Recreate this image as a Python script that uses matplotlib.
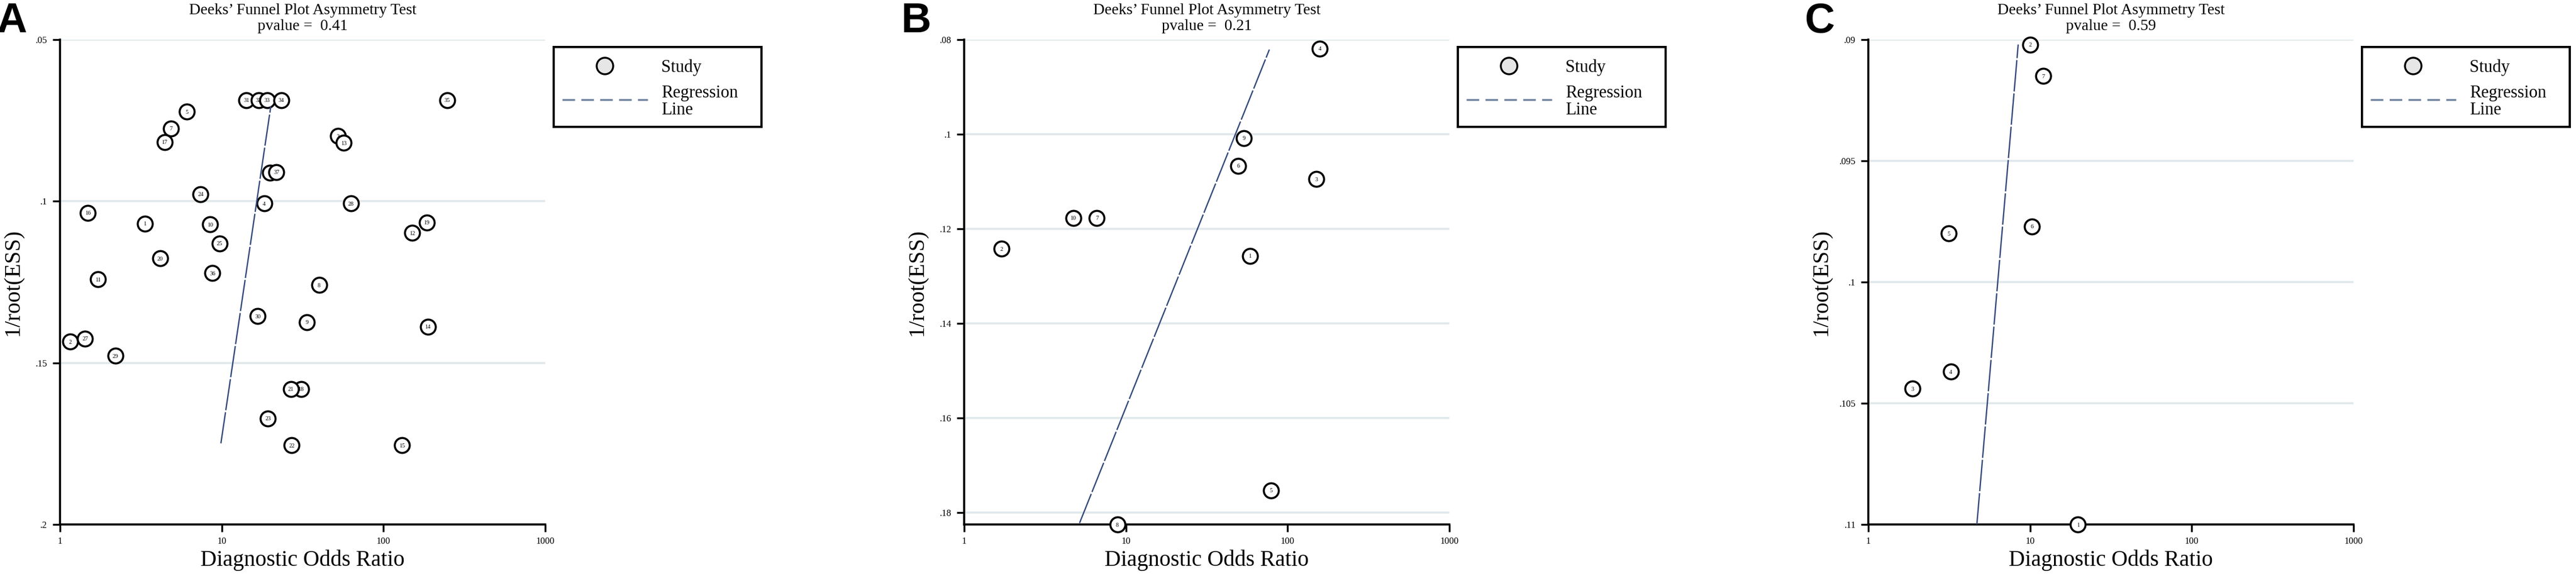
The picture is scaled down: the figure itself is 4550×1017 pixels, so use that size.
import matplotlib
matplotlib.use("Agg")
import matplotlib.pyplot as plt
from matplotlib.ticker import FixedLocator, FixedFormatter, NullLocator

plt.rcParams['font.family'] = ['Liberation Serif', 'DejaVu Serif']
plt.rcParams['lines.scale_dashes'] = False

# ---- data ----
x_ticks = [1, 10, 100, 1000]
x_tick_labels = ['1', '10', '100', '1000']

# Panel A
a_study = [1, 2, 3, 4, 5, 6, 7, 8, 9, 10, 11, 12, 13, 14, 15, 16, 17, 18, 19,
           20, 21, 22, 23, 24, 25, 27, 28, 29, 30, 31, 32, 33, 34, 35, 36, 37]
a_dor = [3.35, 1.16, 52.5, 18.3, 6.06, 19.9, 4.87, 40.0, 33.6, 8.48, 1.72, 151,
         56.9, 188, 130, 1.49, 4.43, 30.9, 185, 4.17, 26.7, 27.1, 19.3, 7.41,
         9.68, 1.43, 62.9, 2.20, 16.7, 14.2, 16.9, 19.1, 23.4, 248, 8.77, 21.8]
a_ess = [0.1069, 0.1434, 0.0798, 0.1007, 0.0723, 0.0912, 0.0775, 0.1259, 0.1374,
         0.1072, 0.1242, 0.1098, 0.0819, 0.1388, 0.1755, 0.1036, 0.0817, 0.1581,
         0.1066, 0.1177, 0.1581, 0.1755, 0.1672, 0.0978, 0.1130, 0.1425, 0.1007,
         0.1478, 0.1356, 0.0687, 0.0687, 0.0687, 0.0687, 0.0687, 0.1222, 0.0910]
a_line_dor = [9.88, 20.1]
a_line_ess = [0.1749, 0.0707]
a_yticks = [0.05, 0.1, 0.15, 0.2]
a_ytick_labels = ['.05', '.1', '.15', '.2']
a_ylim = (0.2, 0.05)
a_pvalue = '0.41'

# Panel B
b_study = [1, 2, 3, 4, 5, 6, 7, 8, 9, 10]
b_dor = [58.5, 1.70, 151, 158, 79.0, 49.4, 6.62, 8.86, 53.6, 4.72]
b_ess = [0.1257, 0.1242, 0.1095, 0.0819, 0.1753, 0.1067, 0.1177, 0.1825, 0.1008, 0.1177]
b_line_dor = [5.17, 77.1]
b_line_ess = [0.1822, 0.0821]
b_yticks = [0.08, 0.1, 0.12, 0.14, 0.16, 0.18]
b_ytick_labels = ['.08', '.1', '.12', '.14', '.16', '.18']
b_ylim = (0.1825, 0.08)
b_pvalue = '0.21'

# Panel C
c_study = [1, 2, 3, 4, 5, 6, 7]
c_dor = [19.8, 10.0, 1.87, 3.24, 3.14, 10.3, 12.1]
c_ess = [0.11, 0.0902, 0.1044, 0.1037, 0.0980, 0.0977, 0.0915]
c_line_dor = [4.69, 8.45]
c_line_ess = [0.11, 0.0902]
c_yticks = [0.09, 0.095, 0.1, 0.105, 0.11]
c_ytick_labels = ['.09', '.095', '.1', '.105', '.11']
c_ylim = (0.11, 0.09)
c_pvalue = '0.59'

W, H = 4550, 1017
fig = plt.figure(figsize=(W / 100, H / 100), dpi=100)

LINE_COL = '#33497a'
GRID_COL = '#e0e8ec'
AX_W, AX_H, AX_TOP = 857, 856, 70


def px_axes(l, t, w, h):
    return fig.add_axes([l / W, 1 - (t + h) / H, w / W, h / H])


def draw_panel(left, letter, study, dor, ess, line_dor, line_ess,
               yticks, ytick_labels, ylim, pvalue):
    ax = px_axes(left, AX_TOP, AX_W, AX_H)
    ax.set_xscale('log')
    ax.set_xlim(1, 1000)
    ax.set_ylim(*ylim)

    ax.xaxis.set_major_locator(FixedLocator(x_ticks))
    ax.xaxis.set_major_formatter(FixedFormatter(x_tick_labels))
    ax.xaxis.set_minor_locator(NullLocator())
    ax.yaxis.set_major_locator(FixedLocator(yticks))
    ax.yaxis.set_major_formatter(FixedFormatter(ytick_labels))
    ax.yaxis.set_minor_locator(NullLocator())
    ax.tick_params(axis='both', direction='out', length=9.5, width=2.4,
                   labelsize=12, colors='black')
    ax.tick_params(axis='x', pad=6)
    ax.tick_params(axis='y', pad=6.5)

    for side in ['top', 'right']:
        ax.spines[side].set_visible(False)
    for side in ['left', 'bottom']:
        ax.spines[side].set_linewidth(2.6)

    ax.yaxis.grid(True, color=GRID_COL, lw=2.6)
    ax.set_axisbelow(True)

    # studies, drawn in order so later circles sit on top
    for i, (s, x, y) in enumerate(zip(study, dor, ess)):
        ax.plot(x, y, 'o', ms=19, mfc='white', mec='black', mew=2.6,
                zorder=4 + 2 * i, clip_on=False)
        ax.text(x, y, str(s), fontsize=7.5, ha='center', va='center_baseline',
                zorder=5 + 2 * i, clip_on=False)

    ax.plot(line_dor, line_ess, color=LINE_COL, lw=1.7, ls=(0, (40, 2.5)),
            zorder=200, clip_on=False)

    # titles and axis labels
    ax.text(0.5, (AX_H + AX_TOP - 25) / AX_H, 'Deeks\u2019 Funnel Plot Asymmetry Test',
            transform=ax.transAxes, ha='center', va='baseline', fontsize=20)
    ax.text(0.5, (AX_H + AX_TOP - 53) / AX_H, 'pvalue =  ' + pvalue,
            transform=ax.transAxes, ha='center', va='baseline', fontsize=20)
    ax.text(0.5, -73 / AX_H, 'Diagnostic Odds Ratio', transform=ax.transAxes,
            ha='center', va='baseline', fontsize=28.5)
    ax.text(-83 / AX_W, 0.5, '1/root(ESS)', transform=ax.transAxes,
            ha='center', va='center', rotation=90, fontsize=28.5)

    fig.text((left - 112) / W, 1 - 57 / H, letter, fontsize=53,
             fontweight='bold', family='Liberation Sans', ha='left', va='baseline')

    # legend box
    lg = px_axes(left + AX_W + 15, 83, 367, 141)
    lg.set_xlim(0, 367)
    lg.set_ylim(141, 0)
    lg.set_xticks([])
    lg.set_yticks([])
    for sp in lg.spines.values():
        sp.set_linewidth(2.8)
        sp.set_color('black')
    lg.plot([90], [33], 'o', ms=21, mfc='#e6e6e6', mec='black', mew=2.4)
    lg.plot([15, 166], [93, 93], color='#6f82a0', lw=2.4, ls=(0, (16, 8)))
    lg.text(190, 44, 'Study', fontsize=22, ha='left', va='baseline')
    lg.text(190, 89, 'Regression', fontsize=22, ha='left', va='baseline')
    lg.text(190, 119, 'Line', fontsize=22, ha='left', va='baseline')
    return ax


draw_panel(106, 'A', a_study, a_dor, a_ess, a_line_dor, a_line_ess,
           a_yticks, a_ytick_labels, a_ylim, a_pvalue)
draw_panel(1703, 'B', b_study, b_dor, b_ess, b_line_dor, b_line_ess,
           b_yticks, b_ytick_labels, b_ylim, b_pvalue)
draw_panel(3300, 'C', c_study, c_dor, c_ess, c_line_dor, c_line_ess,
           c_yticks, c_ytick_labels, c_ylim, c_pvalue)

fig.savefig('out.png', dpi=100, facecolor='white')
